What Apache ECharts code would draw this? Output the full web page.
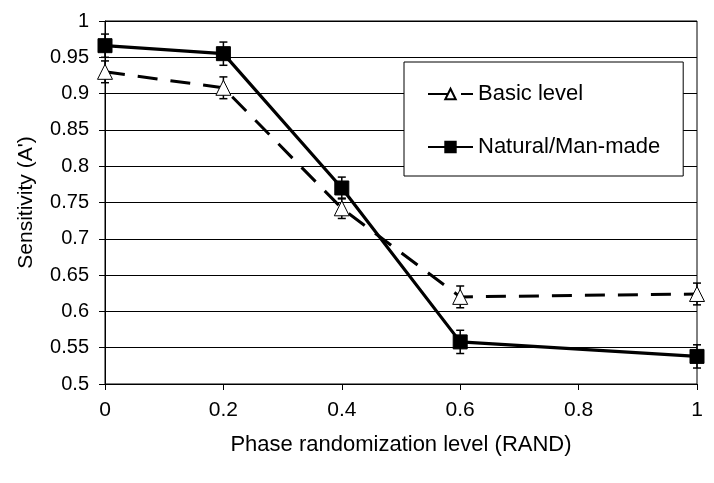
<!DOCTYPE html>
<html>
<head>
<meta charset="utf-8">
<script src="https://cdn.jsdelivr.net/npm/echarts@6/dist/echarts.min.js"></script>
<style>
  html, body { margin: 0; padding: 0; background: #fff; }
  #chart { width: 714px; height: 483px; }
</style>
</head>
<body>
<div id="chart"></div>
<script>
// data
var randLevels = [0, 0.2, 0.4, 0.6, 1];
var basicLevel = [0.930, 0.908, 0.742, 0.620, 0.624];
var basicErr = [0.015, 0.015, 0.014, 0.015, 0.015];
var naturalManMade = [0.966, 0.955, 0.770, 0.558, 0.538];
var naturalErr = [0.016, 0.016, 0.015, 0.016, 0.016];
var xTicks = [0, 0.2, 0.4, 0.6, 0.8, 1];
var yTicks = [0.5, 0.55, 0.6, 0.65, 0.7, 0.75, 0.8, 0.85, 0.9, 0.95, 1];

function pairs(vals) {
    return randLevels.map(function (x, i) { return [x, vals[i]]; });
}
function errRows(vals, errs) {
    return randLevels.map(function (x, i) { return [x, vals[i] - errs[i], vals[i] + errs[i]]; });
}

function renderErr(params, api) {
    var top = api.coord([api.value(0), api.value(2)]);
    var bot = api.coord([api.value(0), api.value(1)]);
    var w = 4;
    var st = { stroke: '#000', lineWidth: 1.5 };
    return {
        type: 'group',
        children: [
            { type: 'line', shape: { x1: top[0], y1: top[1], x2: bot[0], y2: bot[1] }, style: st },
            { type: 'line', shape: { x1: top[0] - w, y1: top[1], x2: top[0] + w, y2: top[1] }, style: st },
            { type: 'line', shape: { x1: bot[0] - w, y1: bot[1], x2: bot[0] + w, y2: bot[1] }, style: st }
        ]
    };
}

var chart = echarts.init(document.getElementById('chart'));
var font = 'Liberation Sans, Arial, sans-serif';

chart.setOption({
    animation: false,
    textStyle: { fontFamily: font, color: '#000' },
    grid: { left: 105, right: 17, top: 21, bottom: 99, show: true, borderColor: '#000', borderWidth: 1 },
    legend: {
        orient: 'vertical',
        left: 404,
        top: 62,
        padding: [21, 23, 18, 23],
        itemGap: 31,
        itemWidth: 45,
        itemHeight: 13,
        backgroundColor: '#fff',
        borderColor: '#000',
        borderWidth: 1,
        textStyle: { fontSize: 22, color: '#000', fontFamily: font },
        data: ['Basic level', 'Natural/Man-made']
    },
    xAxis: {
        type: 'value',
        min: 0,
        max: 1,
        interval: 0.2,
        name: 'Phase randomization level (RAND)',
        nameLocation: 'middle',
        nameGap: 50,
        nameTextStyle: { fontSize: 22, color: '#000' },
        axisLine: { lineStyle: { color: '#000', width: 1 } },
        axisTick: { show: true, length: 6, lineStyle: { color: '#000' } },
        axisLabel: {
            fontSize: 21, color: '#000', margin: 16,
            formatter: function (v) { return xTicks.indexOf(+v.toFixed(1)) >= 0 ? String(+v.toFixed(1)) : ''; }
        },
        splitLine: { show: false }
    },
    yAxis: {
        type: 'value',
        min: 0.5,
        max: 1,
        interval: 0.05,
        name: "Sensitivity (A')",
        nameLocation: 'middle',
        nameGap: 68,
        nameTextStyle: { fontSize: 21, color: '#000' },
        axisLine: { show: true, lineStyle: { color: '#000', width: 1 } },
        axisTick: { show: true, length: 6, lineStyle: { color: '#000' } },
        axisLabel: {
            fontSize: 20, color: '#000', margin: 16,
            formatter: function (v) {
                var r = +v.toFixed(2);
                return yTicks.indexOf(r) >= 0 ? String(r) : '';
            }
        },
        splitLine: { show: true, lineStyle: { color: '#000', width: 1 } }
    },
    series: [
        {
            type: 'custom',
            name: 'basicErr',
            renderItem: renderErr,
            data: errRows(basicLevel, basicErr),
            encode: { x: 0, y: [1, 2] },
            z: 1,
            silent: true
        },
        {
            type: 'custom',
            name: 'naturalErr',
            renderItem: renderErr,
            data: errRows(naturalManMade, naturalErr),
            encode: { x: 0, y: [1, 2] },
            z: 1,
            silent: true
        },
        {
            name: 'Basic level',
            type: 'line',
            data: pairs(basicLevel),
            symbol: 'triangle',
            symbolSize: [15, 15],
            showAllSymbol: true,
            lineStyle: { color: '#000', width: 3, type: [20, 13] },
            itemStyle: { color: '#fff', borderColor: '#000', borderWidth: 1 },
            z: 3
        },
        {
            name: 'Natural/Man-made',
            type: 'line',
            data: pairs(naturalManMade),
            symbol: 'rect',
            symbolSize: 14,
            showAllSymbol: true,
            lineStyle: { color: '#000', width: 3.2 },
            itemStyle: { color: '#000', borderColor: '#000', borderWidth: 1 },
            z: 4
        }
    ]
});
</script>
</body>
</html>
